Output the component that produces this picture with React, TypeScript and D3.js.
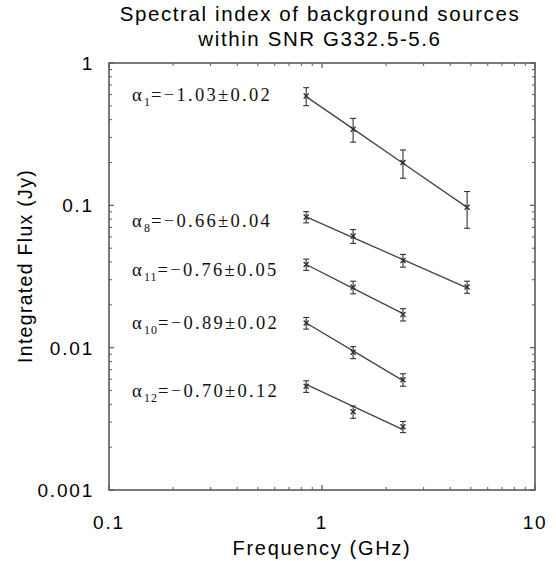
import React from "react";
import * as d3 from "d3";

// ---- data ----
const frequencies = [0.843, 1.4, 2.4, 4.8]; // GHz
const sourceIds = ["1", "8", "11", "10", "12"];
const fluxS1 = [0.586, 0.343, 0.2, 0.097];
const errS1 = [0.085, 0.065, 0.045, 0.028];
const fluxS8 = [0.0828, 0.0608, 0.041, 0.0267];
const errS8 = [0.0075, 0.0068, 0.0042, 0.0026];
const fluxS11 = [0.0384, 0.0266, 0.0171];
const errS11 = [0.0035, 0.0027, 0.0017];
const fluxS10 = [0.0149, 0.00927, 0.00596];
const errS10 = [0.0014, 0.0009, 0.0006];
const fluxS12 = [0.00535, 0.00354, 0.00278];
const errS12 = [0.0005, 0.00035, 0.00025];
const alphas = ["\u22121.03\u00b10.02", "\u22120.66\u00b10.04", "\u22120.76\u00b10.05", "\u22120.89\u00b10.02", "\u22120.70\u00b10.12"];
const alphaValues = [-1.03, -0.66, -0.76, -0.89, -0.7];
const fitAmp1GHz = [0.487, 0.0741, 0.0337, 0.0128, 0.0049];
const labelFlux = [0.54, 0.0703, 0.0321, 0.01355, 0.00452];
const xTicks = [0.1, 1, 10];
const yTicks = [0.001, 0.01, 0.1, 1];
const tickLabelsX = ["0.1", "1", "10"];
const tickLabelsY = ["0.001", "0.01", "0.1", "1"];

const fluxes = [fluxS1, fluxS8, fluxS11, fluxS10, fluxS12];
const errs = [errS1, errS8, errS11, errS10, errS12];

const W = 556;
const H = 561;
const margin = { left: 109, right: 20, top: 63, bottom: 71 };

export default function App() {
  const x = d3.scaleLog().domain([0.1, 10]).range([margin.left, W - margin.right - 1]);
  const y = d3.scaleLog().domain([0.001, 1]).range([H - margin.bottom, margin.top]);
  const [x0, x1] = x.range();
  const [yb, yt] = y.range();
  const axisColor = "#5a5a5a";
  const sans = "Liberation Sans, Arial, sans-serif";
  const serif = "Liberation Serif, Times New Roman, serif";

  const minorX: number[] = [];
  for (const dec of [0.1, 1]) for (let k = 2; k <= 9; k++) minorX.push(dec * k);
  const minorY: number[] = [];
  for (const dec of [0.001, 0.01, 0.1]) for (let k = 2; k <= 9; k++) minorY.push(dec * k);

  return (
    <svg width={W} height={H} style={{ position: "absolute", left: 0, top: 0, background: "#fff" }}>
      <rect x={0} y={0} width={W} height={H} fill="#fff" />
      {/* title */}
      <text x={320} y={21} textAnchor="middle" fontFamily={sans} fontSize={20.5} letterSpacing={1.6} fill="#000">
        Spectral index of background sources
      </text>
      <text x={320} y={46} textAnchor="middle" fontFamily={sans} fontSize={20.5} letterSpacing={1.6} fill="#000">
        within SNR G332.5-5.6
      </text>

      {/* ticks */}
      {minorX.map((t, i) => (
        <g key={"mx" + i} stroke={axisColor} strokeWidth={1}>
          <line x1={x(t)} x2={x(t)} y1={yb} y2={yb - 3} />
          <line x1={x(t)} x2={x(t)} y1={yt} y2={yt + 3} />
        </g>
      ))}
      {xTicks.map((t, i) => (
        <g key={"Mx" + i} stroke={axisColor} strokeWidth={1.2}>
          <line x1={x(t)} x2={x(t)} y1={yb} y2={yb - 5} />
          <line x1={x(t)} x2={x(t)} y1={yt} y2={yt + 5} />
        </g>
      ))}
      {minorY.map((t, i) => (
        <g key={"my" + i} stroke={axisColor} strokeWidth={1}>
          <line x1={x0} x2={x0 + 3} y1={y(t)} y2={y(t)} />
          <line x1={x1} x2={x1 - 3} y1={y(t)} y2={y(t)} />
        </g>
      ))}
      {yTicks.map((t, i) => (
        <g key={"My" + i} stroke={axisColor} strokeWidth={1.2}>
          <line x1={x0} x2={x0 + 5} y1={y(t)} y2={y(t)} />
          <line x1={x1} x2={x1 - 5} y1={y(t)} y2={y(t)} />
        </g>
      ))}
      <rect x={x0} y={yt} width={x1 - x0} height={yb - yt} fill="none" stroke={axisColor} strokeWidth={1.6} />

      {/* tick labels */}
      {xTicks.map((t, i) => (
        <text key={"xl" + i} x={x(t)} y={529} textAnchor="middle" fontFamily={sans} fontSize={19} letterSpacing={1.8} fill="#000">
          {tickLabelsX[i]}
        </text>
      ))}
      {yTicks.map((t, i) => (
        <text key={"yl" + i} x={94} y={y(t) + 7} textAnchor="end" fontFamily={sans} fontSize={19} letterSpacing={1.8} fill="#000">
          {tickLabelsY[i]}
        </text>
      ))}
      <text x={322} y={555} textAnchor="middle" fontFamily={sans} fontSize={20} letterSpacing={1.7} fill="#000">
        Frequency (GHz)
      </text>
      <text
        transform={`translate(32,266) rotate(-90)`}
        textAnchor="middle"
        fontFamily={sans}
        fontSize={19.5}
        letterSpacing={1.3}
        fill="#000"
      >
        Integrated Flux (Jy)
      </text>

      {/* series */}
      {fluxes.map((vals, si) => {
        const fs = frequencies.slice(0, vals.length);
        const fitY = fs.map((f) => y(fitAmp1GHz[si] * Math.pow(f, alphaValues[si])));
        const path = d3
          .line<number>()
          .x((_, i) => x(fs[i]))
          .y((v) => v)(fitY);
        return (
          <g key={"s" + si}>
            <path d={path || ""} fill="none" stroke="#444" strokeWidth={1.3} />
            {vals.map((v, i) => {
              const cx = x(fs[i]);
              const cy = y(v);
              const e = errs[si][i];
              const ya = y(v + e);
              const yb2 = y(Math.max(v - e, 1e-6));
              return (
                <g key={i} stroke="#333" strokeWidth={1.1}>
                  <line x1={cx} x2={cx} y1={ya} y2={yb2} />
                  <line x1={cx - 3} x2={cx + 3} y1={ya} y2={ya} />
                  <line x1={cx - 3} x2={cx + 3} y1={yb2} y2={yb2} />
                  <line x1={cx - 2.5} x2={cx + 2.5} y1={cy - 2.5} y2={cy + 2.5} strokeWidth={1.4} />
                  <line x1={cx - 2.5} x2={cx + 2.5} y1={cy + 2.5} y2={cy - 2.5} strokeWidth={1.4} />
                </g>
              );
            })}
            <text x={132} y={y(labelFlux[si])} fontFamily={serif} fontSize={18.5} letterSpacing={2.3} fill="#111">
              <tspan>α</tspan>
              <tspan fontSize={12} dy={5} letterSpacing={1}>
                {sourceIds[si]}
              </tspan>
              <tspan dy={-5}>{"=" + alphas[si]}</tspan>
            </text>
          </g>
        );
      })}
    </svg>
  );
}
